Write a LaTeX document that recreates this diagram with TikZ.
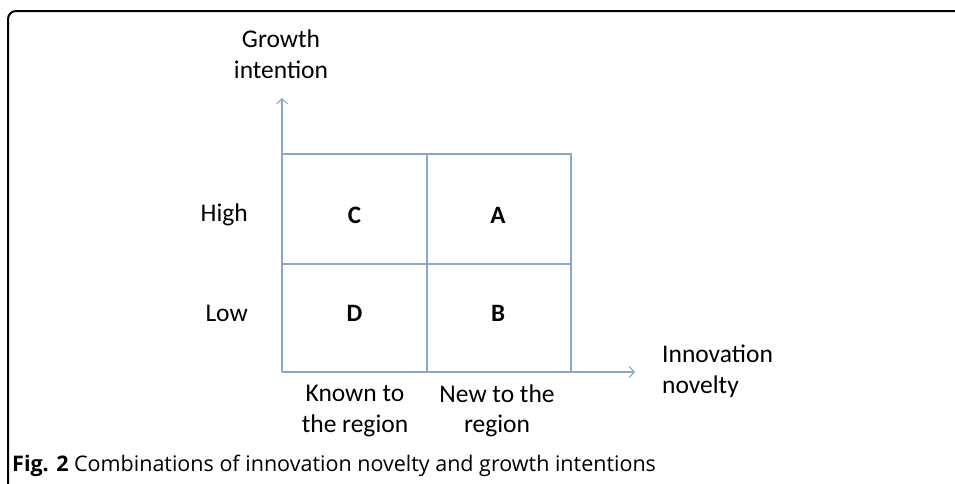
\documentclass[tikz,border=0pt]{standalone}
\usepackage{fontspec}
\setmainfont{Carlito}
\newfontfamily\capfont{Open Sans}
\usetikzlibrary{arrows.meta}
\definecolor{axisblue}{HTML}{8CA6C6}
\tikzset{
  axis/.style={draw=axisblue, line width=1.3pt},
  tip/.style={-{Straight Barb[length=5pt,width=11pt,line width=1.1pt]}},
  lbl/.style={font=\fontsize{25.5}{30.5}\selectfont, align=center, inner sep=0pt},
  letter/.style={font=\fontsize{25}{30}\selectfont\bfseries, inner sep=0pt},
}
\begin{document}
\begin{tikzpicture}[x=1pt,y=-1pt]
\useasboundingbox (0,0) rectangle (955,483);
% frame
\draw[line width=2pt, rounded corners=8pt] (8,490) -- (8,11) -- (960,11);
% grid coordinates
\coordinate (O) at (282,372);
\coordinate (tl) at (282,154);
\coordinate (tm) at (427,154);
\coordinate (tr) at (571,154);
\coordinate (ml) at (282,264);
\coordinate (mr) at (571,264);
\coordinate (bm) at (427,372);
\coordinate (br) at (571,372);
\coordinate (ytip) at (282,98);
\coordinate (xtip) at (635,372);
% axes
\draw[axis,tip] (O) -- (ytip);
\draw[axis,tip] (O) -- (xtip);
% grid
\draw[axis] (tl) -- (tr) -- (br);
\draw[axis] (ml) -- (mr);
\draw[axis] (tm) -- (bm);
% labels
\node[lbl] (gi) at (281,54) {Growth\\intention};
\node[lbl, anchor=east] (high) at (248,215) {High};
\node[lbl, anchor=east] (low) at (248,313) {Low};
\node[letter] (C) at (354.5,215) {C};
\node[letter] (A) at (498,215) {A};
\node[letter] (D) at (354.5,313) {D};
\node[letter] (B) at (498,313) {B};
\node[lbl] (known) at (355,411) {Known to\\the region};
\node[lbl] (new) at (497,411) {New to the\\region};
\node[lbl, anchor=west, align=left] (innov) at (662,371) {Innovation\\novelty};
\node[anchor=west, inner sep=0pt, font=\capfont\fontsize{21.5}{24}\selectfont] (cap) at (12,466) {\textbf{Fig. 2} Combinations of innovation novelty and growth intentions};
\end{tikzpicture}
\end{document}
